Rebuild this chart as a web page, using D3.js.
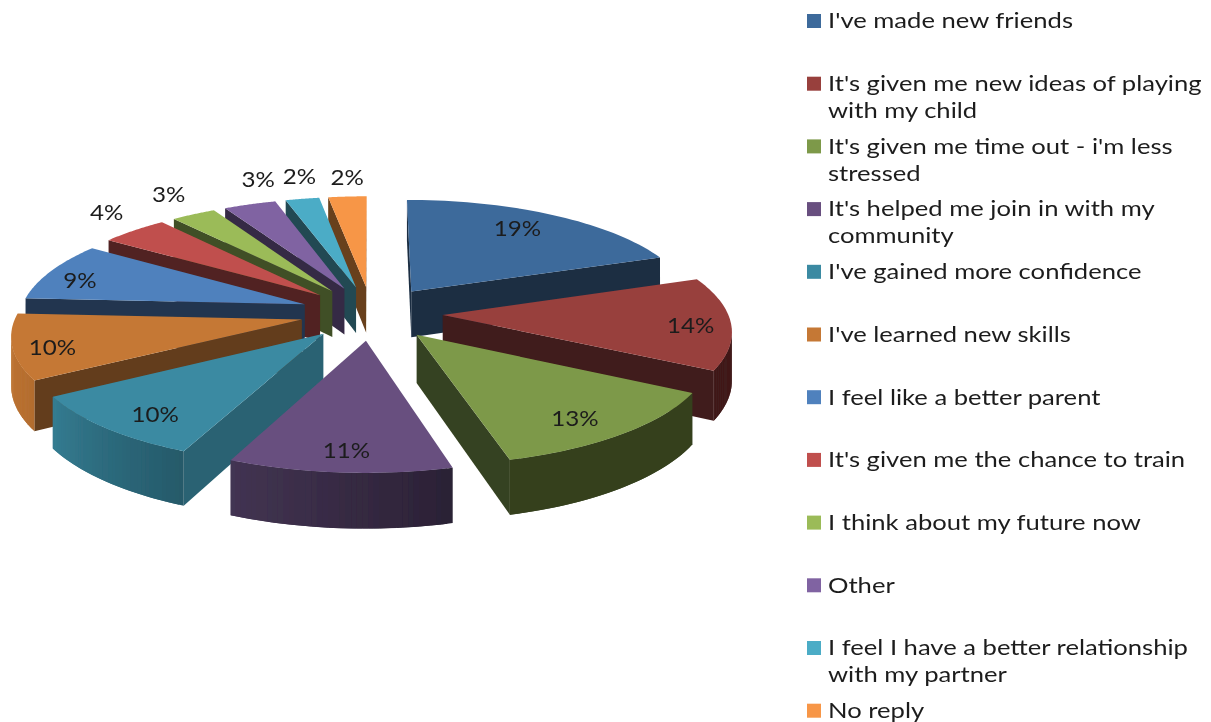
<!DOCTYPE html>
<html>
<head>
<meta charset="utf-8">
<script src="https://cdn.jsdelivr.net/npm/d3@7"></script>
<style>
  html, body { margin: 0; background: #fff; }
  svg { display: block; }
  text { font-family: Lato, "Open Sans", sans-serif; fill: #1c1c1c; }
</style>
</head>
<body>
<svg></svg>
<script>
var w = 1211, h = 722;

var categories = ["I've made new friends", "It's given me new ideas of playing with my child",
  "It's given me time out - i'm less stressed", "It's helped me join in with my community",
  "I've gained more confidence", "I've learned new skills", "I feel like a better parent",
  "It's given me the chance to train", "I think about my future now", "Other",
  "I feel I have a better relationship with my partner", "No reply"];
var values = [19.4, 13.6, 12.8, 10.8, 9.7, 9.6, 8.7, 4.4, 2.9, 3.4, 2.2, 2.49];
var colors = ["#3e6a9b", "#983f3d", "#7d994a", "#67507f", "#3a8aa2", "#c57834",
  "#4f81bd", "#c0504d", "#9bbb59", "#8064a2", "#4bacc6", "#f79646"];
// where each % label sits: distance along the slice (1 = rim) and degrees off its middle
var labelFrac = [.79, .86, .83, .85, .83, .87, .86, 1.24, 1.26, 1.29, 1.28, 1.24];
var labelTurn = [-2.4, 2.1, 2.7, -.5, -2.9, -2.7, -3.1, 3.1, 1.5, 6.2, 1.9, .7];

var cx = 371.5, cy = 313, rx = 285, ry = 108, persp = .125, depth = 47, explode = .25;

var svg = d3.select("svg").attr("width", w).attr("height", h);
var defs = svg.append("defs");
defs.append("filter").attr("id", "soft")
  .append("feGaussianBlur").attr("stdDeviation", .45);

var g = svg.append("g").attr("filter", "url(#soft)");

var color = d3.scaleOrdinal(categories, colors);
var pie = d3.pie().sort(null);
var slices = pie(values).map(function(d, i){
  d.name = categories[i];
  d.mid = (d.startAngle + d.endAngle) / 2;
  d.ox = explode * Math.sin(d.mid);
  d.oy = -explode * Math.cos(d.mid);
  return d;
});

// world (unit disc) to screen, simple perspective toward the front
function project(x, y, z) {
  var s = 1 / (1 - persp * y);
  return [cx + rx * x * s, cy + ry * y * s + (z ? depth * s : 0)];
}
function rim(d, a, z) {
  return project(d.ox + Math.sin(a), d.oy - Math.cos(a), z);
}
function apex(d, z) { return project(d.ox, d.oy, z); }

function deg(a) { return a * 180 / Math.PI; }
function rad(a) { return a * Math.PI / 180; }
// rim wall gets lighter as it turns to the left
var rimShade = d3.scaleLinear().domain([0, 165, 205, 241, 277, 360]).range([.42, .42, .66, .92, 1, 1]);
var wallShade = d3.scaleLinear().domain([0, 195, 204, 239, 274, 360]).range([.43, .43, .72, .5, .42, .42]);

function shade(c, f) {
  var r = d3.rgb(c);
  return d3.rgb(r.r * f, r.g * f, r.b * f).formatHex();
}
var line = d3.line();

// quad hanging under a top edge, only if it faces us
function wall(sl, pts, fill) {
  if (d3.polygonArea(pts) <= 0) return;
  sl.append("path").attr("d", line(pts) + "Z").attr("fill", fill);
}

// back to front
var order = slices.slice().sort(function(a, b){ return a.oy - b.oy; });

order.forEach(function(d) {
  var base = color(d.name);
  var sl = g.append("g");
  var steps = d3.range(0, 41).map(function(i){
    return d.startAngle + (d.endAngle - d.startAngle) * i / 40;
  });

  wall(sl, [apex(d), rim(d, d.startAngle), rim(d, d.startAngle, true), apex(d, true)],
    shade(base, wallShade(deg(d.startAngle))));
  wall(sl, [rim(d, d.endAngle), apex(d), apex(d, true), rim(d, d.endAngle, true)],
    shade(base, wallShade(deg(d.endAngle))));

  // rim wall as strips, each one lapping over the next so no seams show
  steps.slice(0, -1).forEach(function(a, i) {
    var next = steps[Math.min(i + 2, 40)];
    wall(sl, [rim(d, a), rim(d, next), rim(d, next, true), rim(d, a, true)],
      shade(base, rimShade(deg(a))));
  });

  // top face
  var top = [apex(d)].concat(steps.map(function(a){ return rim(d, a); }));
  sl.append("path").attr("d", line(top) + "Z").attr("fill", base);
});

// % labels
slices.forEach(function(d, i) {
  var f = labelFrac[i], a = d.mid + rad(labelTurn[i]);
  var p = project(d.ox + f * Math.sin(a), d.oy - f * Math.cos(a));
  g.append("text")
    .attr("transform", "translate(" + p[0] + "," + p[1] + ") scale(1.15,1)")
    .attr("text-anchor", "middle")
    .attr("dy", "0.35em")
    .style("font-size", "21px")
    .text(Math.round(d.value) + "%");
});

// legend
var legendX = 807, legendY = 21, legendStep = 62.7, lineH = 27, textScale = 1.22, wrapW = 385;
var ly = d3.scaleLinear().domain([0, 1]).range([legendY, legendY + legendStep]);

var legend = g.selectAll(".legend").data(categories).enter().append("g")
  .attr("class", "legend")
  .attr("transform", function(d, i){ return "translate(" + legendX + "," + ly(i) + ")"; });

legend.append("rect")
  .attr("y", -7).attr("width", 14).attr("height", 14)
  .attr("fill", function(d){ return color(d); });

legend.each(function(d) {
  var el = d3.select(this);
  var t = el.append("text")
    .attr("transform", "translate(21,0) scale(" + textScale + ",1)")
    .style("font-size", "21px");
  var words = d.split(" "), cur = [];
  var ts = t.append("tspan").attr("x", 0).attr("dy", "0.35em");
  words.forEach(function(word) {
    cur.push(word);
    ts.text(cur.join(" "));
    if (ts.node().getComputedTextLength() * textScale > wrapW && cur.length > 1) {
      cur.pop();
      ts.text(cur.join(" "));
      cur = [word];
      ts = t.append("tspan").attr("x", 0).attr("dy", lineH).text(word);
    }
  });
});
</script>
</body>
</html>
